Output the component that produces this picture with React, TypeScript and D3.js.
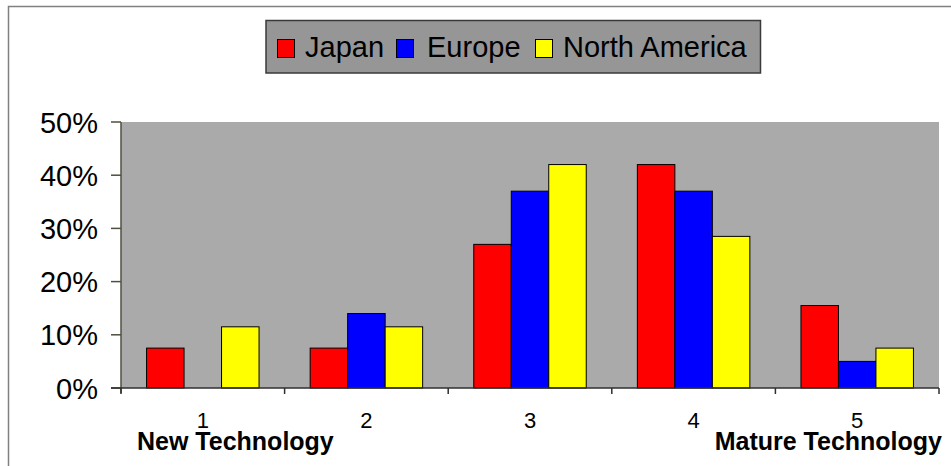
import React from "react";
import * as d3 from "d3";

// Technology maturity stages (1 = new, 5 = mature)
const categories = ["1", "2", "3", "4", "5"];
const seriesNames = ["Japan", "Europe", "North America"];
const japan = [0.075, 0.075, 0.27, 0.42, 0.155];
const europe = [0, 0.14, 0.37, 0.37, 0.05];
const northAmerica = [0.115, 0.115, 0.42, 0.285, 0.075];
const seriesColors = ["#ff0000", "#0000ff", "#ffff00"];
const yTicks = [0, 0.1, 0.2, 0.3, 0.4, 0.5];

const W = 951;
const H = 466;
const FONT = "'Liberation Sans', Arial, Helvetica, sans-serif";

const plot = { left: 121, right: 939, top: 122, bottom: 388 };

export default function App() {
  const values = [japan, europe, northAmerica];
  const x = d3
    .scaleBand<string>()
    .domain(categories)
    .range([plot.left, plot.right])
    .paddingInner(0.3125)
    .paddingOuter(0.15625);
  const xs = d3
    .scaleBand<string>()
    .domain(seriesNames)
    .range([0, x.bandwidth()])
    .padding(0);
  const y = d3.scaleLinear().domain([0, 0.5]).range([plot.bottom, plot.top]);
  const fmt = d3.format(".0%");
  const step = x.step();
  const boundaries = d3.range(categories.length + 1).map((i) => plot.left + i * step);

  // legend item offsets within the box
  const legendItems = [
    { swatch: 277, text: 305 },
    { swatch: 396, text: 427 },
    { swatch: 535, text: 563 },
  ];

  return (
    <svg
      width={W}
      height={H}
      style={{ position: "absolute", left: 0, top: 0, background: "#fff" }}
      fontFamily={FONT}
    >
      {/* outer chart frame */}
      <rect x={8.5} y={6.5} width={W + 20} height={H + 20} fill="#fff" stroke="#808080" strokeWidth={1.5} />

      {/* legend */}
      <rect x={266} y={20.5} width={494.5} height={52.5} fill="#969696" stroke="#3a3a3a" strokeWidth={1.5} />
      {seriesNames.map((s, i) => (
        <g key={s}>
          <rect
            x={legendItems[i].swatch + 0.5}
            y={39.5}
            width={17}
            height={18}
            fill={seriesColors[i]}
            stroke="#000"
            strokeWidth={1}
          />
          <text x={legendItems[i].text} y={57} fontSize={29} fill="#000">
            {s}
          </text>
        </g>
      ))}

      {/* plot background */}
      <rect
        x={plot.left}
        y={plot.top}
        width={plot.right - plot.left}
        height={plot.bottom - plot.top}
        fill="#aaaaaa"
      />

      {/* bars */}
      {categories.map((c, ci) => (
        <g key={c}>
          {seriesNames.map((s, si) => {
            const v = values[si][ci];
            if (!v) return null;
            const bx = (x(c) ?? 0) + (xs(s) ?? 0);
            return (
              <rect
                key={s}
                x={bx}
                y={y(v)}
                width={xs.bandwidth()}
                height={y(0) - y(v)}
                fill={seriesColors[si]}
                stroke="#000"
                strokeWidth={1}
              />
            );
          })}
        </g>
      ))}

      {/* y axis */}
      <line x1={plot.left} x2={plot.left} y1={plot.top} y2={plot.bottom + 5} stroke="#4f4f3f" strokeWidth={1.5} />
      {yTicks.map((t) => (
        <g key={t}>
          <line x1={plot.left - 10} x2={plot.left} y1={y(t)} y2={y(t)} stroke="#4f4f3f" strokeWidth={1.5} />
          <text x={98} y={y(t) + 10.5} textAnchor="end" fontSize={29} fill="#000">
            {fmt(t)}
          </text>
        </g>
      ))}

      {/* x axis */}
      <line x1={plot.left - 10} x2={plot.right} y1={plot.bottom} y2={plot.bottom} stroke="#2f2f2f" strokeWidth={1.5} />
      {boundaries.map((bx, i) => (
        <line key={i} x1={bx} x2={bx} y1={plot.bottom} y2={plot.bottom + 6} stroke="#2f2f2f" strokeWidth={1.5} />
      ))}
      {categories.map((c) => (
        <text
          key={c}
          x={(x(c) ?? 0) + x.bandwidth() / 2}
          y={427.5}
          textAnchor="middle"
          fontSize={22}
          fill="#000"
        >
          {c}
        </text>
      ))}

      <text x={137} y={449.5} fontSize={25} fontWeight="bold" fill="#000">
        New Technology
      </text>
      <text x={942} y={450} fontSize={25} fontWeight="bold" textAnchor="end" fill="#000">
        Mature Technology
      </text>
    </svg>
  );
}
